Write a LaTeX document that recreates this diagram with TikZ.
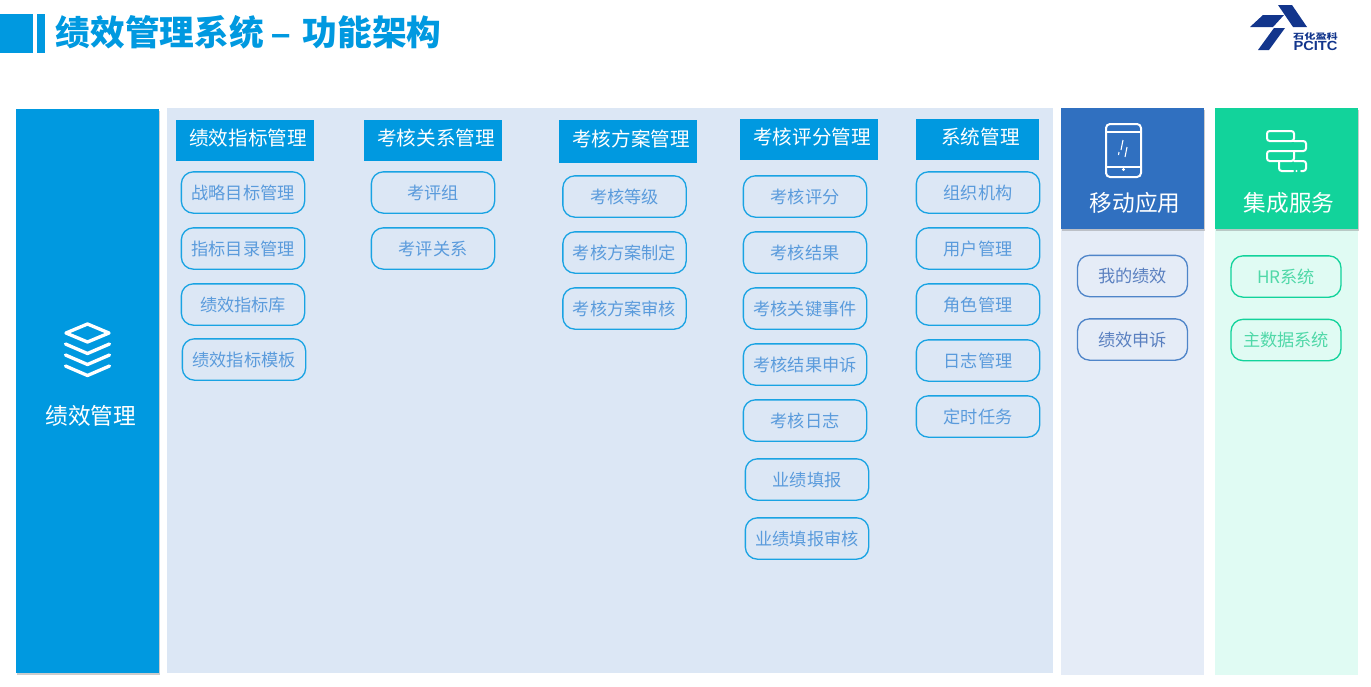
\documentclass[tikz,border=0pt]{standalone}
\usepackage{fontspec}
\setmainfont{Noto Sans CJK SC}
\newfontfamily\logofont{Liberation Sans}
\usepackage{xcolor}
\usetikzlibrary{positioning,shadows}

\definecolor{mainblue}{HTML}{0099E0}
\definecolor{paleblue}{HTML}{DCE7F5}
\definecolor{itemblue}{HTML}{5A9BDC}
\definecolor{appblue}{HTML}{3070C0}
\definecolor{appbody}{HTML}{E5ECF7}
\definecolor{apptext}{HTML}{5A80C0}
\definecolor{svcgreen}{HTML}{12D39B}
\definecolor{svcbody}{HTML}{E0FBF3}
\definecolor{svctext}{HTML}{50D8A8}
\definecolor{logoblue}{HTML}{12358C}

\begin{document}
\begin{tikzpicture}[
    x=0.75pt, y=-0.75pt,
    node distance=11pt and 11pt,
    panel/.style={
        rectangle,
        anchor=north west,
        inner sep=0pt,
        outer sep=0pt
    },
    shadowed/.style={
        drop shadow={shadow xshift=1pt, shadow yshift=-1.2pt, fill=black!50, opacity=0.4}
    },
    headbox/.style={
        rectangle,
        fill=mainblue,
        anchor=north west,
        minimum width=103.5pt,
        minimum height=30.75pt,
        inner sep=0pt,
        outer sep=0pt
    },
    headtext/.style={
        font=\fontsize{14.7pt}{16pt}\selectfont,
        text=white,
        xshift=2.25pt,
        yshift=1.5pt,
        inner sep=0pt
    },
    itembox/.style={
        rectangle,
        draw=mainblue!90,
        rounded corners=9pt,
        minimum width=92.5pt,
        minimum height=31pt,
        inner sep=0pt,
        outer sep=0pt,
        line width=1pt,
        text=itemblue,
        font=\fontsize{12.9pt}{14pt}\selectfont
    },
    appitem/.style={
        itembox,
        draw=appblue!85,
        text=apptext,
        minimum width=82.5pt
    },
    svcitem/.style={
        itembox,
        draw=svcgreen,
        text=svctext,
        minimum width=82.5pt
    },
    bigtitle/.style={
        font=\fontsize{17pt}{18pt}\selectfont,
        text=white,
        inner sep=0pt
    },
    iconline/.style={
        draw=white,
        line width=2.5pt,
        line join=round,
        line cap=round
    },
    thinicon/.style={
        draw=white,
        line width=1.5pt,
        rounded corners=2pt,
        line cap=round
    }
]
    \useasboundingbox (0,0) rectangle (1371,686);

    % --- Title ---
    \node [panel, fill=mainblue, minimum width=24.75pt, minimum height=29.25pt] (sqmark) at (0,14) {};
    \node [panel, fill=mainblue, minimum width=6pt, minimum height=29.25pt] (barmark) at (37,14) {};
    \node [anchor=west, inner sep=0pt, text=mainblue, font=\fontsize{26pt}{28pt}\selectfont\bfseries] (title) at (55.5,32) {绩效管理系统 {\logofont –}\kern3pt{} 功能架构};

    % --- Logo ---
    \fill [logoblue] (1278,5) -- (1292,5) -- (1307,27) -- (1293,27) -- cycle;
    \fill [logoblue] (1250,27) -- (1263,15) -- (1284,15) -- (1273,27) -- cycle;
    \fill [logoblue] (1274,28) -- (1285,28) -- (1269,50) -- (1258,50) -- cycle;
    \node [inner sep=0pt, text=logoblue, yscale=0.7, font=\fontsize{8.4pt}{9pt}\selectfont\bfseries] (logocn) at (1315.5,36.5) {石化盈科};
    \node [inner sep=0pt, text=logoblue, yscale=0.9, font=\fontsize{11pt}{12pt}\logofont\bfseries] (logoen) at (1315.5,46) {PCITC};

    % --- Panels ---
    \node [panel, shadowed, fill=mainblue, minimum width=107.25pt, minimum height=423pt] (mainpanel) at (16,109) {};
    \node [panel, fill=paleblue, minimum width=664.5pt, minimum height=423.75pt] (midpanel) at (167,108) {};
    \node [panel, fill=appbody, minimum width=107.25pt, minimum height=334.5pt] (appbody) at (1061,229) {};
    \node [panel, shadowed, fill=appblue, minimum width=107.25pt, minimum height=90.75pt] (apphead) at (1061,108) {};
    \node [panel, fill=svcbody, minimum width=107.25pt, minimum height=334.5pt] (svcbody) at (1215,229) {};
    \node [panel, shadowed, fill=svcgreen, minimum width=107.25pt, minimum height=90.75pt] (svchead) at (1215,108) {};

    \node [bigtitle] (maintitle) at (91,416) {绩效管理};
    \node [bigtitle] (apptitle) at (1135,203) {移动应用};
    \node [bigtitle] (svctitle) at (1289,203) {集成服务};

    % --- Icons ---
    % layers
    \draw [iconline] (66,333) -- (87.5,324) -- (109,333) -- (87.5,342) -- cycle;
    \foreach \ya in {344,355,366} {
        \draw [iconline] (65.5,\ya) -- (87.5,\ya+9.5) -- (109.5,\ya);
    }
    % phone
    \draw [thinicon, rounded corners=3pt] (1106,124) rectangle (1141,177);
    \draw [thinicon] (1106,132) -- (1141,132);
    \draw [thinicon] (1106,167) -- (1141,167);
    \fill [white] (1123.5,169.5) circle (1.2pt);
    \draw [white, line width=0.8pt] (1123,140) -- (1121,150);
    \draw [white, line width=0.8pt] (1119,152) -- (1118.5,155);
    \draw [white, line width=0.8pt] (1127,147) -- (1125,157);
    % bricks
    \draw [thinicon] (1267,131) rectangle (1294,141);
    \draw [thinicon] (1294,141) -- (1306,141) -- (1306,151) -- (1279,151);
    \draw [thinicon] (1279,141) -- (1294,141);
    \draw [thinicon] (1279,151) -- (1267,151) -- (1267,161) -- (1294,161) -- (1294,151);
    \draw [thinicon] (1294,161) -- (1306,161) -- (1306,171) -- (1301,171);
    \draw [thinicon] (1279,161) -- (1279,171) -- (1293,171);
    \fill [white] (1296.5,171) circle (0.8pt);

    % --- Column heads ---
    \node [headbox, label={[headtext]center:绩效指标管理}] (headperf) at (176,120) {};
    \node [headbox, label={[headtext]center:考核关系管理}] (headrel) at (364,120) {};
    \node [headbox, minimum height=32pt, label={[headtext]center:考核方案管理}] (headplan) at (559,120) {};
    \node [headbox, label={[headtext]center:考核评分管理}] (headscore) at (740,119) {};
    \node [headbox, minimum width=92.25pt, label={[headtext]center:系统管理}] (headsys) at (916,119) {};

    % --- Column 1 ---
    \node [itembox] (perfa) at (243,192.5) {战略目标管理};
    \node [itembox, below=of perfa] (perfb) {指标目录管理};
    \node [itembox, below=of perfb] (perfc) {绩效指标库};
    \node [itembox, below=of perfc, xshift=0.75pt, yshift=0.75pt] (perfd) {绩效指标模板};

    % --- Column 2 ---
    \node [itembox] (rela) at (433,192.5) {考评组};
    \node [itembox, below=of rela] (relb) {考评关系};

    % --- Column 3 ---
    \node [itembox] (plana) at (624.5,196.5) {考核等级};
    \node [itembox, below=of plana] (planb) {考核方案制定};
    \node [itembox, below=of planb] (planc) {考核方案审核};

    % --- Column 4 ---
    \node [itembox] (scorea) at (805,196.5) {考核评分};
    \node [itembox, below=of scorea] (scoreb) {考核结果};
    \node [itembox, below=of scoreb] (scorec) {考核关键事件};
    \node [itembox, below=of scorec] (scored) {考核结果申诉};
    \node [itembox, below=of scored] (scoree) {考核日志};
    \node [itembox, below=of scoree, xshift=1.5pt, yshift=-2.25pt] (scoref) {业绩填报};
    \node [itembox, below=of scoref, yshift=-2.25pt] (scoreg) {业绩填报审核};

    % --- Column 5 ---
    \node [itembox] (sysa) at (978,192.5) {组织机构};
    \node [itembox, below=of sysa] (sysb) {用户管理};
    \node [itembox, below=of sysb] (sysc) {角色管理};
    \node [itembox, below=of sysc] (sysd) {日志管理};
    \node [itembox, below=of sysd] (syse) {定时任务};

    % --- Mobile and services ---
    \node [appitem] (appa) at (1132.5,276) {我的绩效};
    \node [appitem] (appb) at (1132.5,339.5) {绩效申诉};
    \node [svcitem] (svca) at (1286,276.5) {HR系统};
    \node [svcitem] (svcb) at (1286,340) {主数据系统};

\end{tikzpicture}
\end{document}
